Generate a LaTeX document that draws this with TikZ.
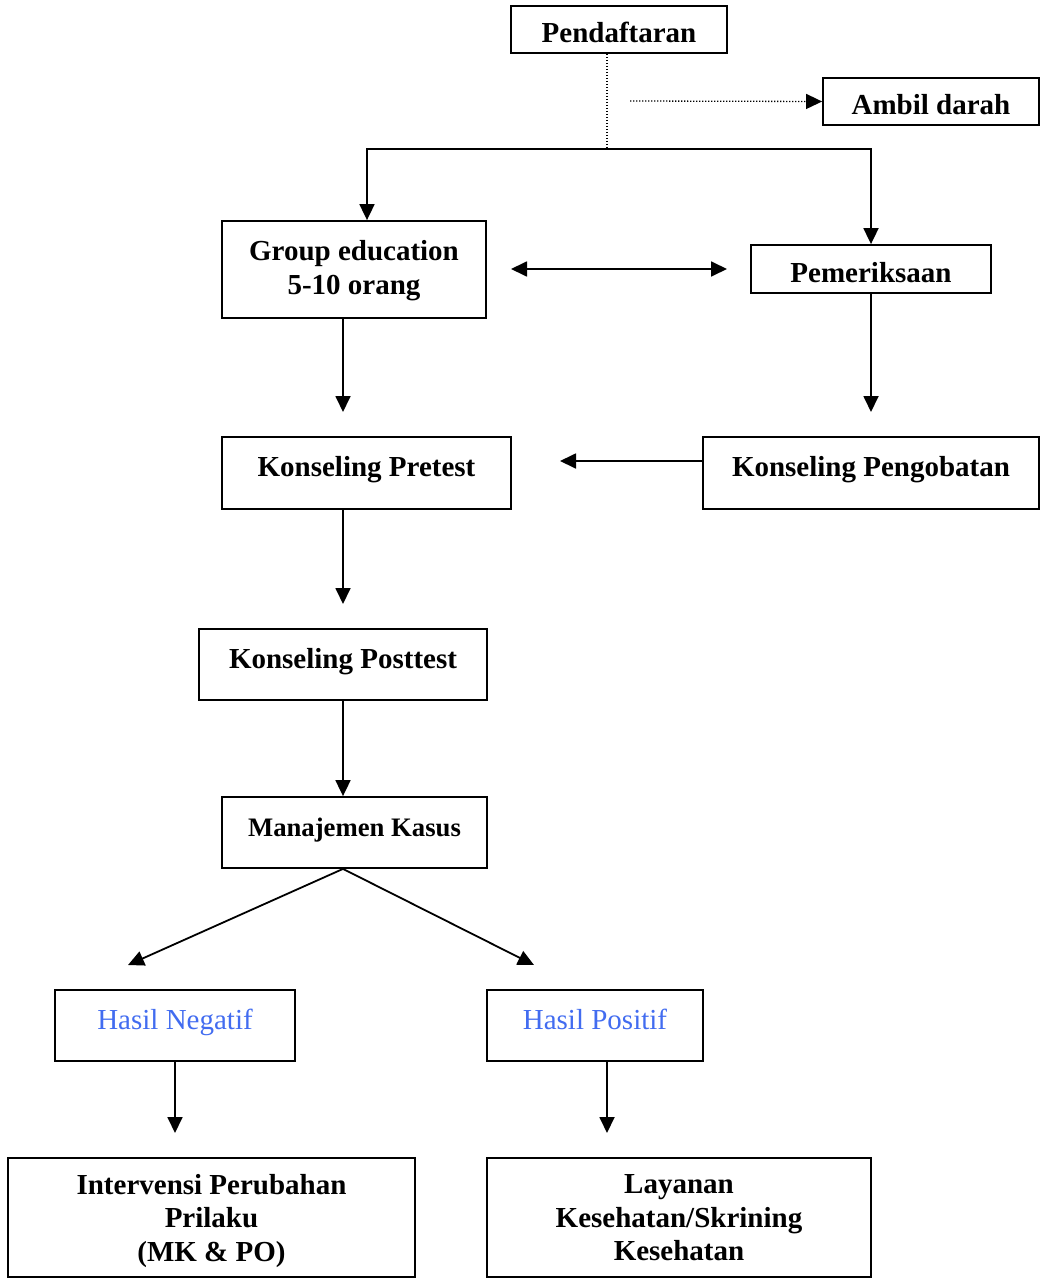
\documentclass[tikz,border=0pt]{standalone}
\usepackage{fontspec}
\setmainfont{Liberation Serif}
\usetikzlibrary{arrows.meta}
\definecolor{hasilblue}{RGB}{66,108,240}
\tikzset{
	box/.style={draw, line width=1.8pt, inner sep=0pt, align=center,
		font=\fontsize{29}{33.5}\selectfont\bfseries},
	raised/.style={text height=19pt, text depth=12pt},
	lowered/.style={text height=26pt, text depth=0pt},
	tip/.style={line width=1.8pt, -{Triangle[length=16pt,width=15pt]}},
	dottip/.style={line width=1.3pt, dash pattern=on 1.3pt off 1.7pt, -{Triangle[length=16pt,width=15pt]}}
}

\begin{document}
\begin{tikzpicture}[x=1pt, y=-1pt]
			%%%%% START %%%%%
			\useasboundingbox (0, 0) rectangle (1041, 1279);
			
			\node[box, lowered, minimum width=216, minimum height=47] (daftar) at (619, 29.5) {Pendaftaran};
			\node[box, lowered, minimum width=216, minimum height=47] (darah) at (931, 101.5) {Ambil darah};
			\node[box, text depth=4pt, minimum width=264, minimum height=97] (group) at (354, 269.5) {Group education\\5-10 orang};
			\node[box, lowered, minimum width=240, minimum height=48] (periksa) at (871, 269) {Pemeriksaan};
			\node[box, raised, minimum width=289, minimum height=72] (pretest) at (366.5, 473) {Konseling Pretest};
			\node[box, raised, minimum width=336, minimum height=72] (obat) at (871, 473) {Konseling Pengobatan};
			\node[box, raised, minimum width=288, minimum height=71] (post) at (343, 664.5) {Konseling Posttest};
			\node[box, raised, minimum width=265, minimum height=71, font=\fontsize{26.7}{31}\selectfont\bfseries] (kasus) at (354.5, 832.5) {Manajemen Kasus};
			\node[box, raised, minimum width=240, minimum height=71, font=\fontsize{29}{33.5}\selectfont, text=hasilblue] (neg) at (175, 1025.5) {Hasil Negatif};
			\node[box, raised, minimum width=216, minimum height=71, font=\fontsize{29}{33.5}\selectfont, text=hasilblue] (pos) at (595, 1025.5) {Hasil Positif};
			\node[box, text depth=-10pt, minimum width=407, minimum height=119] (interv) at (211.5, 1217.5) {Intervensi Perubahan\\Prilaku\\(MK \& PO)};
			\node[box, text depth=-12pt, minimum width=384, minimum height=119] (layan) at (679, 1217.5) {Layanan\\Kesehatan/Skrining\\Kesehatan};
			
			\coordinate (split) at (607, 149);
			\coordinate (dstart) at (630, 101);
			\coordinate (dbl1) at (511, 269);
			\coordinate (dbl2) at (727, 269);
			\coordinate (ga) at (343, 412);
			\coordinate (pa) at (871, 412);
			\coordinate (oa) at (560, 461);
			\coordinate (pra) at (343, 604);
			\coordinate (na) at (128, 965);
			\coordinate (ya) at (534, 965);
			\coordinate (nb) at (175, 1133);
			\coordinate (pb) at (607, 1133);
			
			\draw[line width=1.3pt, dash pattern=on 1.3pt off 1.7pt] (daftar.south -| split) -- (split);
			\draw[dottip] (dstart) -- (darah.west);
			\draw[tip] (split) -| ([xshift=13pt]group.north);
			\draw[tip] (split) -| (periksa.north);
			\draw[line width=1.8pt, {Triangle[length=16pt,width=15pt]}-{Triangle[length=16pt,width=15pt]}] (dbl1) -- (dbl2);
			\draw[tip] (group.south -| ga) -- (ga);
			\draw[tip] (periksa.south) -- (pa);
			\draw[tip] (obat.west |- oa) -- (oa);
			\draw[tip] (pretest.south -| pra) -- (pra);
			\draw[tip] (post.south) -- (post.south |- kasus.north);
			\draw[tip] (kasus.south -| post.south) -- (na);
			\draw[tip] (kasus.south -| post.south) -- (ya);
			\draw[tip] (neg.south) -- (nb);
			\draw[tip] (pos.south -| pb) -- (pb);
			%%%%% END %%%%%
\end{tikzpicture}
\end{document}
